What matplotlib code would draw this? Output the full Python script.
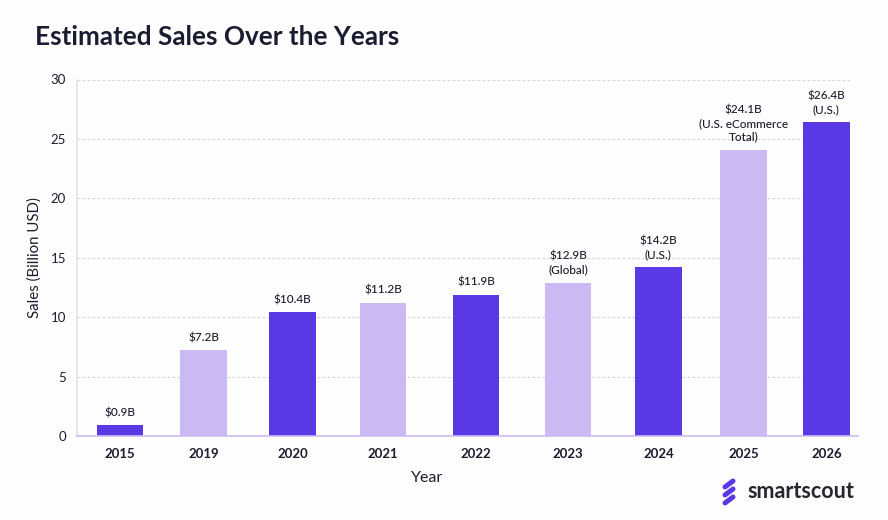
#!/usr/bin/env python3
import matplotlib
matplotlib.use('Agg')
import matplotlib.pyplot as plt
from matplotlib.lines import Line2D

years = ['2015', '2019', '2020', '2021', '2022', '2023', '2024', '2025', '2026']
sales = [0.9, 7.2, 10.4, 11.2, 11.9, 12.9, 14.2, 24.1, 26.4]
notes = ['', '', '', '', '', '(Global)', '(U.S.)', '(U.S. eCommerce\nTotal)', '(U.S.)']
y_ticks = [0, 5, 10, 15, 20, 25, 30]

# bars are not evenly spaced along the axis
slots = [0, 0.947, 1.951, 2.975, 4.027, 5.07, 6.09, 7.053, 7.99]

DARK = '#5b38e6'
LIGHT = '#cbb9f3'
INK = '#1c1c2e'
BG = '#fdfdfd'

plt.rcParams['font.family'] = 'Lato'
fig = plt.figure(figsize=(8.88, 5.2), dpi=100, facecolor=BG)
ax = fig.add_axes([77 / 888, 1 - 436 / 520, (858 - 77) / 888, (436 - 79.5) / 520], facecolor=BG)

# dashed guides stop a little short of the axis end
ax.hlines(y_ticks[1:], -0.486, 8.27, color='#d6d6da', linewidth=0.8, linestyles=(0, (2.5, 2)), zorder=1)

colors = [DARK if i % 2 == 0 else LIGHT for i in range(len(years))]
ax.bar(slots, sales, width=0.525, color=colors, zorder=2)

for x, val, note in zip(slots, sales, notes):
	text = f'${val}B'
	if note:
		text += '\n' + note
	ax.text(x, val + 0.6, text, ha='center', va='bottom', fontsize=8.5, color=INK,
		fontweight='medium', linespacing=1.3, zorder=3)

ax.set_xlim(-0.486, 8.348)
ax.set_ylim(0, 30)
ax.set_xticks(slots, years, fontsize=9.5, fontweight='bold', color=INK)
ax.set_yticks(y_ticks)
ax.tick_params(axis='both', length=0)
ax.tick_params(axis='x', pad=9)
ax.tick_params(axis='y', pad=8, labelsize=9.5, labelcolor=INK)
for side in ['top', 'right']:
	ax.spines[side].set_visible(False)
ax.spines['left'].set_color('#e4e2f4')
ax.spines['left'].set_linewidth(1.2)
ax.spines['bottom'].set_color('#c9bdf0')
ax.spines['bottom'].set_linewidth(1.2)

fig.text(35 / 888, 1 - 37 / 520, 'Estimated Sales Over the Years', fontsize=18.8, fontweight='bold',
	color='#1a1c30', va='center', ha='left')
fig.text(35 / 888, 1 - 258 / 520, 'Sales (Billion USD)', fontsize=10.8, rotation=90, color=INK, va='center', ha='center')
fig.text(427 / 888, 1 - 478 / 520, 'Year', fontsize=11.5, color=INK, va='center', ha='center')

# logo mark: three slanted rounded strokes
for y0 in [484, 492, 500]:
	fig.add_artist(Line2D([725 / 888, 733 / 888], [1 - (y0 + 3) / 520, 1 - (y0 - 3) / 520], color=DARK,
		linewidth=3.6, solid_capstyle='round'))
fig.text(747 / 888, 1 - 492 / 520, 'smartscout', fontsize=15.5, fontweight='bold', color='#26262e', va='center', ha='left')

fig.savefig('out.png', dpi=100, facecolor=BG)
